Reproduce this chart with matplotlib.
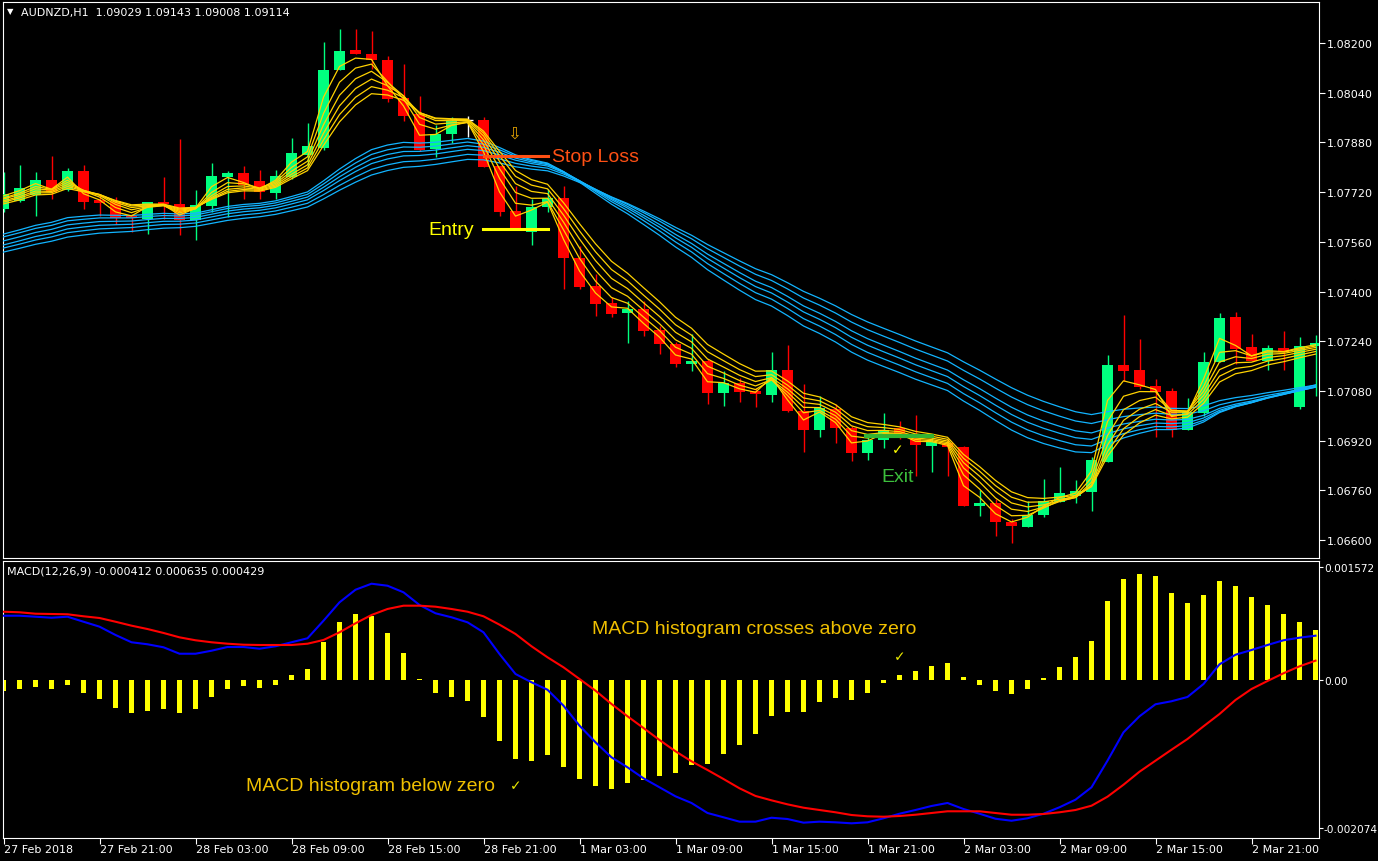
import numpy as np
import pandas as pd
import matplotlib
matplotlib.use('Agg')
import matplotlib.pyplot as plt

# AUDNZD H1 candles, 27 Feb 2018 15:00 onwards
opens = [1.07666, 1.07691, 1.07711, 1.07759, 1.07727, 1.07788, 1.07695, 1.07691, 1.07643, 1.07633,
         1.07688, 1.07682, 1.07630, 1.07675, 1.07769, 1.07782, 1.07756, 1.07717, 1.07769, 1.07840,
         1.07862, 1.08113, 1.08178, 1.08165, 1.08145, 1.08023, 1.07971, 1.07859, 1.07907, 1.07952,
         1.07952, 1.07804, 1.07659, 1.07592, 1.07672, 1.07701, 1.07508, 1.07418, 1.07363, 1.07331,
         1.07344, 1.07276, 1.07231, 1.07167, 1.07176, 1.07073, 1.07105, 1.07080, 1.07067, 1.07147,
         1.07015, 1.06954, 1.07022, 1.06961, 1.06880, 1.06922, 1.06961, 1.06941, 1.06903, 1.06912,
         1.06899, 1.06710, 1.06719, 1.06658, 1.06642, 1.06681, 1.06722, 1.06742, 1.06755, 1.06851,
         1.07163, 1.07147, 1.07096, 1.07080, 1.06954, 1.07009, 1.07173, 1.07318, 1.07221, 1.07176,
         1.07218, 1.07028, 1.07225]
highs = [1.07785, 1.07807, 1.07785, 1.07836, 1.07798, 1.07807, 1.07711, 1.07704, 1.07650, 1.07688,
         1.07769, 1.07891, 1.07727, 1.07814, 1.07788, 1.07804, 1.07791, 1.07791, 1.07894, 1.07943,
         1.08203, 1.08245, 1.08245, 1.08239, 1.08158, 1.08132, 1.08029, 1.07936, 1.07962, 1.07965,
         1.07962, 1.07804, 1.07740, 1.07698, 1.07730, 1.07740, 1.07547, 1.07456, 1.07382, 1.07369,
         1.07369, 1.07289, 1.07238, 1.07263, 1.07183, 1.07144, 1.07122, 1.07089, 1.07205, 1.07228,
         1.07102, 1.07064, 1.07038, 1.06967, 1.06935, 1.07009, 1.06983, 1.07002, 1.06935, 1.06925,
         1.06903, 1.06761, 1.06732, 1.06668, 1.06726, 1.06796, 1.06835, 1.06793, 1.06867, 1.07196,
         1.07324, 1.07247, 1.07118, 1.07089, 1.07057, 1.07205, 1.07331, 1.07334, 1.07263, 1.07228,
         1.07273, 1.07254, 1.07260]
lows = [1.07656, 1.07688, 1.07643, 1.07698, 1.07724, 1.07666, 1.07643, 1.07617, 1.07592, 1.07585,
        1.07633, 1.07582, 1.07566, 1.07656, 1.07640, 1.07698, 1.07698, 1.07698, 1.07762, 1.07801,
        1.07856, 1.08113, 1.08165, 1.08116, 1.08010, 1.07949, 1.07852, 1.07833, 1.07878, 1.07897,
        1.07801, 1.07643, 1.07604, 1.07550, 1.07656, 1.07408, 1.07408, 1.07321, 1.07318, 1.07234,
        1.07257, 1.07199, 1.07157, 1.07144, 1.07038, 1.07031, 1.07044, 1.07028, 1.07044, 1.07012,
        1.06883, 1.06932, 1.06912, 1.06854, 1.06858, 1.06896, 1.06925, 1.06806, 1.06819, 1.06806,
        1.06710, 1.06677, 1.06613, 1.06590, 1.06642, 1.06674, 1.06722, 1.06719, 1.06693, 1.06851,
        1.07112, 1.07086, 1.06932, 1.06932, 1.06954, 1.06999, 1.07173, 1.07167, 1.07176, 1.07147,
        1.07147, 1.07022, 1.07064]
closes = [1.07714, 1.07733, 1.07759, 1.07720, 1.07788, 1.07688, 1.07685, 1.07637, 1.07637, 1.07688,
          1.07682, 1.07630, 1.07679, 1.07772, 1.07782, 1.07743, 1.07720, 1.07772, 1.07846, 1.07868,
          1.08113, 1.08174, 1.08165, 1.08145, 1.08020, 1.07965, 1.07856, 1.07907, 1.07949, 1.07952,
          1.07801, 1.07656, 1.07604, 1.07672, 1.07701, 1.07508, 1.07415, 1.07360, 1.07328, 1.07344,
          1.07273, 1.07231, 1.07167, 1.07176, 1.07073, 1.07105, 1.07077, 1.07070, 1.07147, 1.07015,
          1.06954, 1.07025, 1.06961, 1.06880, 1.06922, 1.06954, 1.06941, 1.06906, 1.06916, 1.06899,
          1.06710, 1.06719, 1.06658, 1.06645, 1.06681, 1.06726, 1.06751, 1.06758, 1.06858, 1.07163,
          1.07144, 1.07093, 1.07077, 1.06954, 1.07012, 1.07173, 1.07315, 1.07215, 1.07176, 1.07218,
          1.07205, 1.07225, 1.07234]

# moving-average ribbons: periods and their values on the first visible bar
fast_periods = [2, 3, 4, 5, 6, 7]
fast_start = [1.07708, 1.07701, 1.07698, 1.07692, 1.07688, 1.07682]
slow_periods = [21, 23, 25, 27, 30, 33]
slow_start = [1.07585, 1.07576, 1.07563, 1.07550, 1.07540, 1.07527]

# MACD(12,26,9) panel, values in units of 1e-4
hist = [-1.49, -1.26, -0.98, -1.26, -0.70, -1.82, -2.65, -3.91, -4.61, -4.33,
        -4.05, -4.61, -4.05, -2.37, -1.26, -0.84, -1.12, -0.70, 0.70, 1.54,
        5.31, 8.10, 9.22, 8.94, 6.57, 3.77, 0.14, -1.82, -2.37, -2.93,
        -5.17, -8.52, -11.04, -11.32, -10.48, -12.15, -13.83, -14.81, -15.23, -14.39,
        -13.97, -13.41, -12.99, -11.87, -11.73, -10.34, -9.08, -7.54, -5.03, -4.47,
        -4.47, -3.07, -2.51, -2.79, -1.82, -0.35, 0.70, 1.26, 1.96, 2.37,
        0.42, -0.70, -1.54, -1.96, -1.26, 0.28, 1.82, 3.21, 5.45, 11.04,
        14.11, 14.81, 14.53, 12.15, 10.76, 11.87, 13.83, 13.13, 11.60, 10.48,
        9.22, 8.10, 6.99]
macd_main = [8.98, 8.98, 8.84, 8.70, 8.84, 8.14, 7.45, 6.29, 5.27, 4.99,
             4.57, 3.67, 3.67, 4.09, 4.61, 4.61, 4.37, 4.71, 5.27, 5.83,
             8.28, 10.85, 12.61, 13.45, 13.17, 12.25, 10.48, 9.32, 8.76, 8.06,
             6.66, 3.63, 0.84, -0.32, -1.36, -3.59, -6.38, -8.70, -10.80, -12.20,
             -13.73, -14.99, -16.25, -17.18, -18.58, -19.18, -19.79, -19.79, -19.24, -19.42,
             -19.93, -19.79, -19.88, -20.02, -19.88, -19.32, -18.68, -18.16, -17.60, -17.18,
             -18.02, -18.68, -19.38, -19.66, -19.32, -18.68, -17.78, -16.72, -14.99, -11.27,
             -7.31, -5.07, -3.39, -2.97, -2.37, -0.56, 2.19, 3.53, 4.19, 4.89,
             5.55, 5.91, 6.19]
macd_signal = [9.54, 9.46, 9.26, 9.22, 9.18, 8.90, 8.66, 8.14, 7.59, 7.12,
               6.57, 5.96, 5.55, 5.27, 5.07, 4.93, 4.89, 4.89, 4.89, 5.07,
               5.59, 6.66, 7.92, 9.08, 9.92, 10.38, 10.38, 10.24, 9.92, 9.54,
               8.90, 7.73, 6.43, 4.71, 3.17, 1.77, 0.14, -1.49, -3.35, -5.07,
               -6.71, -8.38, -9.96, -11.36, -12.57, -13.83, -15.13, -16.20, -16.81, -17.37,
               -17.84, -18.16, -18.48, -18.86, -19.04, -19.10, -19.00, -18.82, -18.58, -18.34,
               -18.34, -18.34, -18.58, -18.82, -18.82, -18.72, -18.48, -18.16, -17.56, -16.30,
               -14.63, -12.81, -11.27, -9.74, -8.24, -6.47, -4.75, -2.79, -1.26, -0.14,
               0.94, 1.91, 2.70]

time_labels = ['27 Feb 2018', '27 Feb 21:00', '28 Feb 03:00', '28 Feb 09:00', '28 Feb 15:00',
               '28 Feb 21:00', '1 Mar 03:00', '1 Mar 09:00', '1 Mar 15:00', '1 Mar 21:00',
               '2 Mar 03:00', '2 Mar 09:00', '2 Mar 15:00', '2 Mar 21:00']
price_ticks = [1.06600, 1.06760, 1.06920, 1.07080, 1.07240, 1.07400,
               1.07560, 1.07720, 1.07880, 1.08040, 1.08200]
macd_ticks = [0.001572, 0.0, -0.002074]
macd_tick_labels = ['0.001572', '0.00', '-0.002074']

# trade levels
stop_loss = 1.07836
entry = 1.07601
exit_level = 1.06935

o = np.array(opens)
h = np.array(highs)
l = np.array(lows)
c = np.array(closes)
bars = np.arange(len(c))

W, H = 1378, 862
fig = plt.figure(figsize=(W / 100, H / 100), dpi=100, facecolor='black')


def box(left, top, right, bottom):
    return [left / W, 1 - bottom / H, (right - left) / W, (bottom - top) / H]


ax = fig.add_axes(box(2.5, 2.5, 1318.5, 558.5))
axm = fig.add_axes(box(2.5, 561.5, 1318.5, 838.5), sharex=ax)
for a in (ax, axm):
    a.set_facecolor('black')
    for s in a.spines.values():
        s.set_color('white')
        s.set_linewidth(0.8)

# candles
cols = np.where(c > o, '#00FF7F', np.where(c < o, '#FF0000', 'white'))
ax.vlines(bars, l, h, colors=cols, lw=1, zorder=2)
ax.bar(bars, np.abs(c - o), bottom=np.minimum(o, c), width=0.69, color=cols, lw=0, zorder=3)
doji = c == o
ax.hlines(c[doji], bars[doji] - 0.34, bars[doji] + 0.34, colors='white', lw=1, zorder=3)


def ema(seed, n):
    s = pd.Series(np.r_[seed, c[1:]])
    return s.ewm(span=n, adjust=False).mean().values


for seed, n in zip(slow_start, slow_periods):
    ax.plot(bars, ema(seed, n), color='#12B4FF', lw=0.9, zorder=4)
for seed, n in zip(fast_start, fast_periods):
    ax.plot(bars, ema(seed, n), color='#FFD200', lw=0.9, zorder=5)

# trade annotations
ann = ['Liberation Sans', 'DejaVu Sans']
ax.plot([30.0, 34.0], [stop_loss, stop_loss], color='#FF5014', lw=2.2, zorder=6)
ax.text(34.3, stop_loss, 'Stop Loss', color='#FF5014', fontsize=14, family=ann,
        va='center', ha='left', zorder=7)
ax.plot([29.95, 34.05], [entry, entry], color='#FFFF00', lw=2.2, zorder=6)
ax.text(29.4, entry, 'Entry', color='#FFFF00', fontsize=14, family=ann,
        va='center', ha='right', zorder=7)
ax.text(31.9, 1.07910, '\u21e9', color='#E0A000', fontsize=12, va='center', ha='center', zorder=7)
ax.plot([53.9, 58.0], [exit_level, exit_level], color='#32B432', lw=3, zorder=6)
ax.text(55.9, 1.06893, '\u2713', color='#FFFF00', fontsize=10, va='center', ha='center', zorder=7)
ax.text(55.9, 1.06803, 'Exit', color='#3CBE3C', fontsize=14, family=ann,
        va='center', ha='center', zorder=7)

ax.set_xlim(-0.0625, 82.1875)
ax.set_ylim(1.065437, 1.083337)
ax.yaxis.tick_right()
ax.set_yticks(price_ticks)
ax.set_yticklabels(['%.5f' % p for p in price_ticks])
ax.tick_params(axis='y', colors='white', labelsize=8, length=4, width=0.8, pad=2)
ax.tick_params(axis='x', bottom=False, labelbottom=False)

# MACD panel
h4 = np.array(hist) * 1e-4
axm.bar(bars, h4, width=0.33, color='#FFFF00', lw=0, zorder=2)
axm.plot(bars, np.array(macd_main) * 1e-4, color='#0000FF', lw=1.5, zorder=3)
axm.plot(bars, np.array(macd_signal) * 1e-4, color='#FF0000', lw=1.5, zorder=3)
gold = '#F0C000'
axm.text(36.8, 0.000726, 'MACD histogram crosses above zero', color=gold, fontsize=14,
         family=ann, va='center', ha='left')
axm.text(56.0, 0.000335, '\u2713', color='#E8E800', fontsize=10, va='center', ha='center')
axm.text(15.15, -0.001467, 'MACD histogram below zero', color=gold, fontsize=14,
         family=ann, va='center', ha='left')
axm.text(32.0, -0.001467, '\u2713', color='#E8E800', fontsize=10, va='center', ha='center')

axm.set_ylim(-0.0022002, 0.0016693)
axm.yaxis.tick_right()
axm.set_yticks(macd_ticks)
axm.set_yticklabels(macd_tick_labels)
axm.tick_params(axis='y', colors='white', labelsize=7.6, length=3, width=0.8, pad=0.8)
axm.set_xticks(bars[::6])
axm.set_xticklabels(time_labels)
axm.tick_params(axis='x', colors='white', labelsize=8, length=4, width=0.8, pad=1)
for lab in axm.get_xticklabels():
    lab.set_horizontalalignment('left')

fig.text(10 / W, 1 - 12 / H, '\u25bc', color='white', fontsize=6, va='center', ha='center')
fig.text(21 / W, 1 - 13 / H, 'AUDNZD,H1  1.09029 1.09143 1.09008 1.09114', color='white',
         fontsize=8, va='center', ha='left')
fig.text(7 / W, 1 - 572 / H, 'MACD(12,26,9) -0.000412 0.000635 0.000429', color='white',
         fontsize=8, va='center', ha='left')

fig.savefig('out.png', dpi=100, facecolor='black')
